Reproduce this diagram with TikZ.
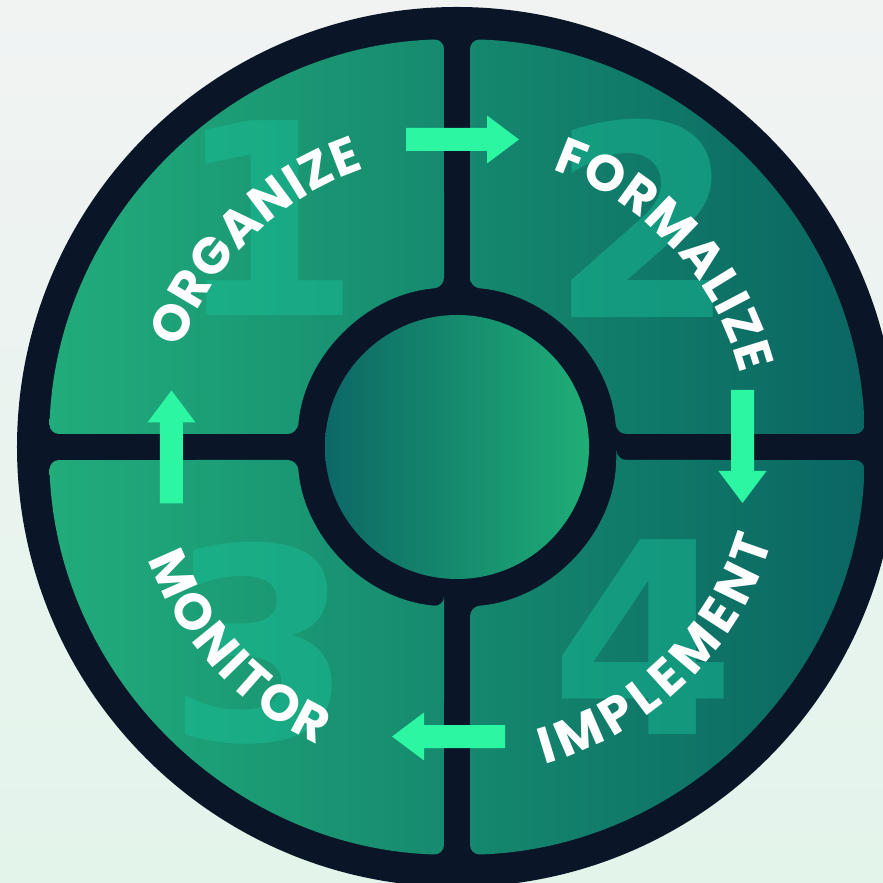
\documentclass[tikz,border=0pt]{standalone}
\usepackage{fontspec}
\usepackage{xcolor}
\usepackage{tikz}
\usetikzlibrary{decorations.text}

\newfontfamily\stepfont{Poppins}[BoldFont={* Bold}]
\newfontfamily\numfont{DejaVu Sans}
\newcommand{\steplabel}{\stepfont\bfseries\fontsize{14.5}{14.5}\selectfont}

\definecolor{ringdark}{HTML}{0A1628}
\definecolor{quadleft}{HTML}{21AC7B}
\definecolor{quadright}{HTML}{0A6662}
\definecolor{hubleft}{HTML}{0C6866}
\definecolor{hubright}{HTML}{1FAE76}
\definecolor{arrowmint}{HTML}{2CF6A2}
\definecolor{numfill}{HTML}{18C29A}
\definecolor{bgtop}{HTML}{F1F3F3}
\definecolor{bgbottom}{HTML}{E3F4EB}

\begin{document}
\begin{tikzpicture}[x=0.01cm,y=0.01cm,
    bignum/.style={font=\numfont\bfseries\fontsize{76}{76}\selectfont, text=numfill, text opacity=0.45, inner sep=0pt},
    steptext/.style={decorate, decoration={text along path, text color=white, text align=fit to path, text={|\steplabel|#1}}}]
        \useasboundingbox (-457,-436) rectangle (426,447);
        \clip (-457,-436) rectangle (426,447);
        \shade[top color=bgtop, bottom color=bgbottom] (-457,-436) rectangle (426,447);

        % dark frame
        \fill[ringdark] (0,0) circle (440);

        % four quadrants, one shading across all
        \shade[left color=quadleft, right color=quadright, rounded corners=2.8pt]
            \foreach \k in {0,90,180,270} {
                ({85.34+\k}:160) -- ({88.17+\k}:408)
                arc[start angle={88.17+\k}, end angle={1.83+\k}, radius=408]
                -- ({4.66+\k}:160)
                arc[start angle={4.66+\k}, end angle={85.34+\k}, radius=160] -- cycle
            };

        % hub
        \shade[left color=hubleft, right color=hubright] (0,0) circle (132);

        % big numbers
        \node[bignum] (n1) at (-189,229) {1};
        \node[bignum] (n2) at (186,229) {2};
        \node[bignum] (n3) at (-197,-196) {3};
        \node[bignum] (n4) at (186,-190) {4};

        % labels on the ring
        \path[steptext=ORGANIZE] (160.5:293) arc[start angle=160.5, end angle=108.5, radius=293];
        \path[steptext=FORMALIZE] (71:293) arc[start angle=71, end angle=14.5, radius=293];
        \path[steptext=MONITOR] (200:329) arc[start angle=200, end angle=245, radius=329];
        \path[steptext=IMPLEMENT] (285.5:329) arc[start angle=285.5, end angle=343.5, radius=329];

        % arrows
        \foreach \ax/\ay/\rot in {5.5/307.5/0, 285.5/0.5/-90, -8.5/-289.5/180, -285.5/0/90}
            \fill[arrowmint, shift={(\ax,\ay)}, rotate=\rot]
                (-56.5,-11.5) -- (24.5,-11.5) -- (24.5,-24) -- (56.5,0)
                -- (24.5,24) -- (24.5,11.5) -- (-56.5,11.5) -- cycle;
    \end{tikzpicture}
\end{document}
